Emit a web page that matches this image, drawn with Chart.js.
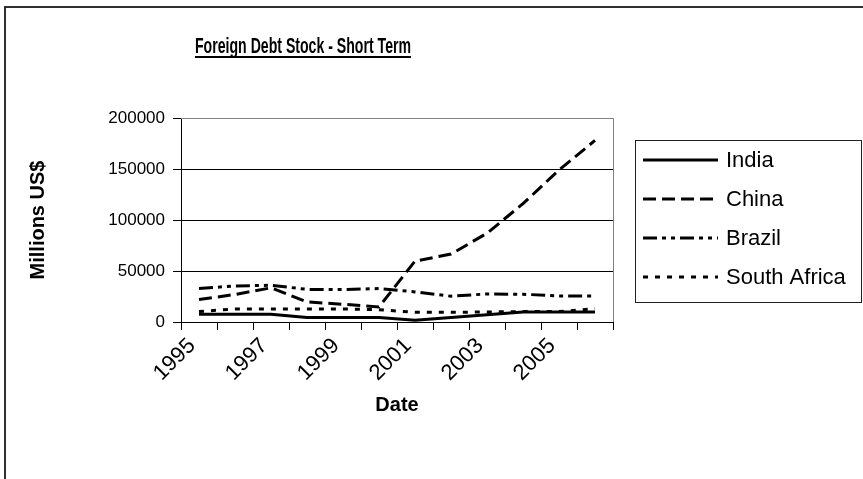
<!DOCTYPE html>
<html>
<head>
<meta charset="utf-8">
<script src="https://cdn.jsdelivr.net/npm/chart.js@4/dist/chart.umd.min.js"></script>
<style>
  html, body { margin: 0; padding: 0; background: #fff; }
  #wrap { width: 863px; height: 479px; }
</style>
</head>
<body>
<div id="wrap"><canvas id="chart" width="863" height="479"></canvas></div>
<script>
"use strict";

const years = ["1995", "1996", "1997", "1998", "1999", "2000", "2001", "2002", "2003", "2004", "2005", "2006"];
const india = [7500, 7500, 7500, 4300, 4300, 4300, 1600, 4500, 7000, 9800, 9800, 9800];
const china = [22000, 27000, 33500, 19700, 17400, 14800, 59700, 66600, 87000, 116000, 149000, 178000];
const brazil = [32800, 35400, 36000, 32000, 31800, 32800, 29500, 25300, 27500, 27200, 25600, 25600];
const southAfrica = [10200, 12800, 12800, 12800, 12800, 12100, 9500, 9500, 9800, 10200, 10200, 13000];
const yTicks = [0, 50000, 100000, 150000, 200000];

const FONT = "'Liberation Sans', Arial, sans-serif";

const series = [
  { label: "India", data: india, dash: [] },
  { label: "China", data: china, dash: [13, 6] },
  { label: "Brazil", data: brazil, dash: [14, 5, 4, 5, 4, 5] },
  { label: "South Africa", data: southAfrica, dash: [5, 7] },
];

// title, legend box and frame are drawn by hand (excel look)
const excelDecor = {
  id: "excelDecor",
  afterDraw(chart) {
    const ctx = chart.ctx;
    const area = chart.chartArea;
    ctx.save();

    // plot frame, top and right in gray
    ctx.strokeStyle = "#808080";
    ctx.lineWidth = 1;
    ctx.beginPath();
    ctx.moveTo(area.left, area.top + 0.5);
    ctx.lineTo(area.right + 0.5, area.top + 0.5);
    ctx.lineTo(area.right + 0.5, area.bottom);
    ctx.stroke();

    // outer frame (only top and left show)
    ctx.strokeStyle = "#303030";
    ctx.lineWidth = 2;
    ctx.beginPath();
    ctx.moveTo(5, 479);
    ctx.lineTo(5, 7);
    ctx.lineTo(863, 7);
    ctx.stroke();

    // title, condensed like the source
    const title = "Foreign Debt Stock - Short Term";
    ctx.font = "bold 22px " + FONT;
    ctx.fillStyle = "#000";
    ctx.textAlign = "center";
    ctx.textBaseline = "alphabetic";
    const tw = ctx.measureText(title).width;
    const sx = Math.min(1, 216 / tw);
    ctx.save();
    ctx.translate(303, 53);
    ctx.scale(sx, 1);
    ctx.fillText(title, 0, 0);
    ctx.fillRect(-tw / 2, 3, tw, 2);
    ctx.restore();

    // legend
    ctx.strokeStyle = "#202020";
    ctx.lineWidth = 1;
    ctx.strokeRect(635.5, 140.5, 226, 162);
    ctx.font = "22px " + FONT;
    ctx.textAlign = "left";
    ctx.textBaseline = "middle";
    const rows = [160, 199, 238, 277];
    chart.data.datasets.forEach((ds, i) => {
      const y = rows[i];
      ctx.strokeStyle = "#000";
      ctx.lineWidth = 3;
      ctx.setLineDash(ds.borderDash || []);
      ctx.beginPath();
      ctx.moveTo(643, y);
      ctx.lineTo(718, y);
      ctx.stroke();
      ctx.setLineDash([]);
      ctx.fillText(ds.label, 726, y + 1);
    });

    ctx.restore();
  },
};

new Chart(document.getElementById("chart"), {
  type: "line",
  data: {
    labels: years,
    datasets: series.map((s) => ({
      label: s.label,
      data: s.data,
      borderColor: "#000",
      backgroundColor: "#000",
      borderWidth: 3,
      borderDash: s.dash,
      pointRadius: 0,
      tension: 0,
      fill: false,
    })),
  },
  options: {
    responsive: false,
    animation: false,
    devicePixelRatio: 1,
    layout: { padding: { left: 0, right: 250, top: 118, bottom: 0 } },
    plugins: {
      legend: { display: false },
      title: { display: false },
      tooltip: { enabled: false },
    },
    scales: {
      x: {
        type: "category",
        offset: true,
        afterFit: (s) => { s.height = 157; },
        grid: {
          offset: true,
          drawOnChartArea: false,
          color: "#000",
          tickLength: 8,
        },
        border: { color: "#000", width: 1 },
        ticks: {
          autoSkip: false,
          maxRotation: 45,
          minRotation: 45,
          color: "#000",
          font: { family: FONT, size: 22 },
          padding: 3,
          labelOffset: -7,
          callback: (v, i) => (i % 2 === 0 ? years[i] : ""),
        },
        title: {
          display: true,
          text: "Date",
          color: "#000",
          font: { family: FONT, size: 20, weight: "bold" },
          padding: { top: 0, bottom: 62 },
        },
      },
      y: {
        min: 0,
        max: 200000,
        afterFit: (s) => { s.width = 181; },
        afterBuildTicks: (s) => { s.ticks = yTicks.map((v) => ({ value: v })); },
        grid: { color: "#000", tickLength: 8 },
        border: { color: "#000", width: 1 },
        ticks: {
          color: "#000",
          font: { family: FONT, size: 17 },
          padding: 8,
          callback: (v) => String(v),
        },
        title: {
          display: true,
          text: "Millions US$",
          color: "#000",
          font: { family: FONT, size: 20, weight: "bold" },
          padding: { top: 26, bottom: 0 },
        },
      },
    },
  },
  plugins: [excelDecor],
});
</script>
</body>
</html>
